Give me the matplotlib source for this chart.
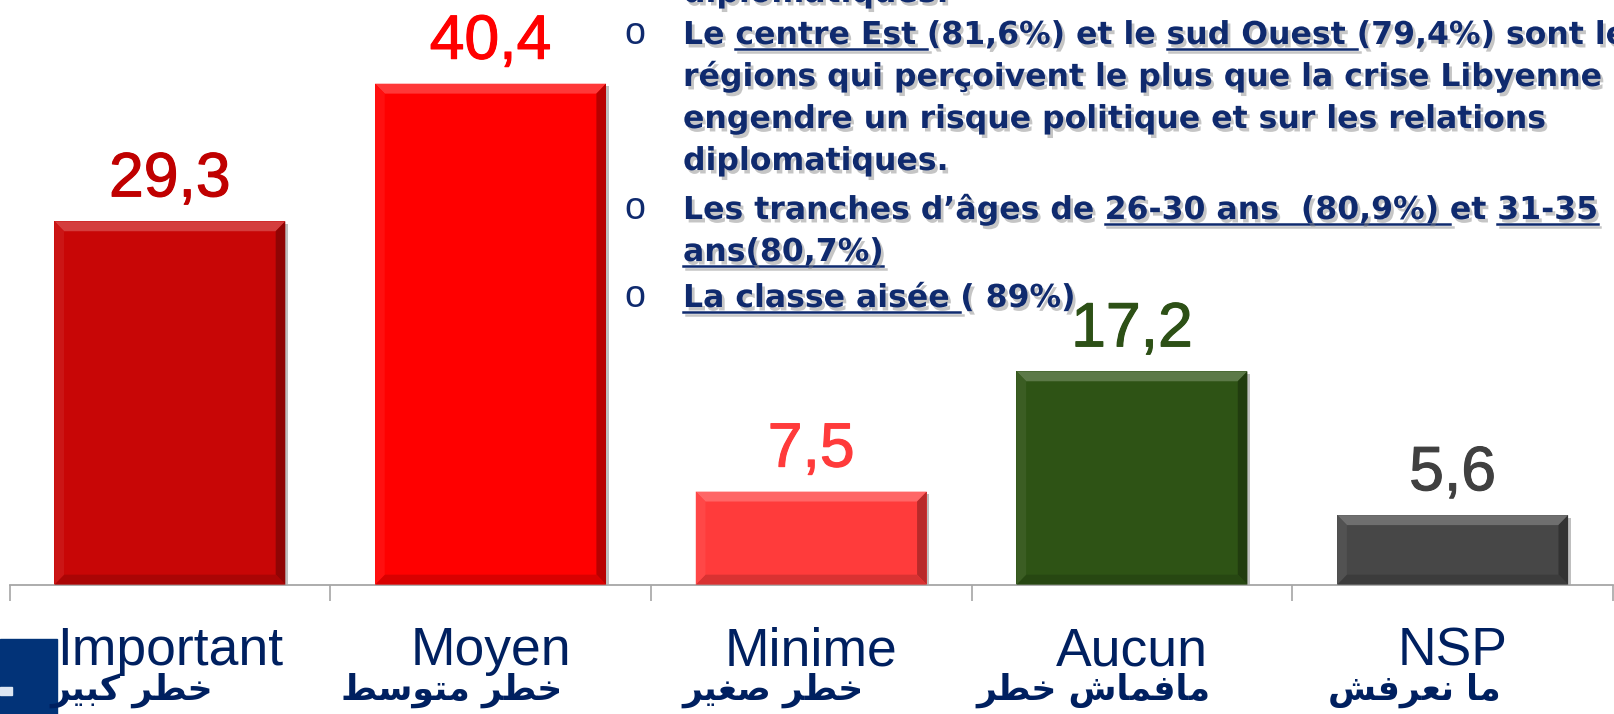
import matplotlib
matplotlib.use('Agg')
import matplotlib.pyplot as plt
import matplotlib.patheffects as pe
import matplotlib.transforms as mtransforms
from matplotlib.patches import Polygon, Rectangle
from matplotlib.lines import Line2D
from matplotlib.font_manager import FontProperties
import matplotlib.colors as mcolors
import numpy as np

# ---------------- data ----------------
categories_fr = ['Important', 'Moyen', 'Minime', 'Aucun', 'NSP']
categories_ar = ['خطر كبير', 'خطر متوسط', 'خطر صغير', 'مافماش خطر', 'ما نعرفش']
values = [29.3, 40.4, 7.5, 17.2, 5.6]
value_labels = ['29,3', '40,4', '7,5', '17,2', '5,6']
bar_colors = ['#C80606', '#FF0000', '#FF3B3B', '#2E5315', '#474747']
label_colors = ['#C00000', '#FF0000', '#FF3B3B', '#2D5016', '#404040']

note_lines = [
    [('diplomatiques.', False)],
    [('Le ', False), ('centre Est ', True), ('(81,6%) et le ', False),
     ('sud Ouest ', True), ('(79,4%) sont les', False)],
    [('régions qui perçoivent le plus que la crise Libyenne', False)],
    [('engendre un risque politique et sur les relations', False)],
    [('diplomatiques.', False)],
    [('Les tranches d’âges de ', False), ('26-30 ans  (80,9%) ', True),
     ('et ', False), ('31-35', True)],
    [('ans(80,7%)', True)],
    [('La classe aisée ', True), ('( 89%)', False)],
]
note_bullets = [False, True, False, False, False, True, False, True]

NAVY = '#0F2A6E'
LABEL_NAVY = '#002060'

# ---------------- Arabic shaping (contextual forms, visual order) ----------------
FORMS = {
    'ا': ('\uFE8D', '\uFE8E', None, None),
    'ب': ('\uFE8F', '\uFE90', '\uFE91', '\uFE92'),
    'ت': ('\uFE95', '\uFE96', '\uFE97', '\uFE98'),
    'خ': ('\uFEA5', '\uFEA6', '\uFEA7', '\uFEA8'),
    'ر': ('\uFEAD', '\uFEAE', None, None),
    'س': ('\uFEB1', '\uFEB2', '\uFEB3', '\uFEB4'),
    'ش': ('\uFEB5', '\uFEB6', '\uFEB7', '\uFEB8'),
    'ص': ('\uFEB9', '\uFEBA', '\uFEBB', '\uFEBC'),
    'ط': ('\uFEC1', '\uFEC2', '\uFEC3', '\uFEC4'),
    'ع': ('\uFEC9', '\uFECA', '\uFECB', '\uFECC'),
    'غ': ('\uFECD', '\uFECE', '\uFECF', '\uFED0'),
    'ف': ('\uFED1', '\uFED2', '\uFED3', '\uFED4'),
    'ك': ('\uFED9', '\uFEDA', '\uFEDB', '\uFEDC'),
    'م': ('\uFEE1', '\uFEE2', '\uFEE3', '\uFEE4'),
    'ن': ('\uFEE5', '\uFEE6', '\uFEE7', '\uFEE8'),
    'و': ('\uFEED', '\uFEEE', None, None),
    'ي': ('\uFEF1', '\uFEF2', '\uFEF3', '\uFEF4'),
}


def shape_arabic(text):
    chars = list(text)
    out = []
    for i, ch in enumerate(chars):
        f = FORMS.get(ch)
        if f is None:
            out.append(ch)
            continue
        prev = chars[i - 1] if i > 0 else None
        nxt = chars[i + 1] if i + 1 < len(chars) else None
        jp = prev in FORMS and FORMS[prev][2] is not None
        jn = nxt in FORMS and f[2] is not None
        if jp and jn:
            out.append(f[3])
        elif jp:
            out.append(f[1])
        elif jn:
            out.append(f[2])
        else:
            out.append(f[0])
    return ''.join(reversed(out))


def mix(c, other, t):
    a = np.array(mcolors.to_rgb(c))
    b = np.array(mcolors.to_rgb(other))
    return tuple(a * (1 - t) + b * t)


# ---------------- figure ----------------
W, H = 1614, 714
fig = plt.figure(figsize=(W / 100, H / 100), dpi=100)
fig.patch.set_facecolor('white')

ax_left, ax_right, ax_base = 9.5, 1613, 584.6
ax = fig.add_axes([ax_left / W, (H - ax_base) / H, (ax_right - ax_left) / W, ax_base / H])
ax.set_facecolor('none')
x = np.arange(len(values))
ax.set_xlim(-0.5, len(values) - 0.5)
ax.set_ylim(0, 47.15)

for s in ['top', 'left', 'right']:
    ax.spines[s].set_visible(False)
ax.spines['bottom'].set_color('#A6A6A6')
ax.spines['bottom'].set_linewidth(1.3)
ax.set_yticks([])
ax.set_xticks(np.arange(-0.5, len(values)), labels=[''] * (len(values) + 1))
ax.tick_params(axis='x', direction='out', length=11.5, width=1.2, color='#A6A6A6')

bars = ax.bar(x, values, width=0.72, color=bar_colors, zorder=2,
              path_effects=[pe.SimplePatchShadow(offset=(2, -2), shadow_rgbFace='#000000', alpha=0.25), pe.Normal()])

bx, by = 0.03, 0.8
for b, c in zip(bars, bar_colors):
    x0, y0, w, h = b.get_x(), b.get_y(), b.get_width(), b.get_height()
    top = Polygon([(x0, y0 + h), (x0 + w, y0 + h), (x0 + w - bx, y0 + h - by), (x0 + bx, y0 + h - by)],
                  closed=True, color=mix(c, 'white', 0.22), lw=0, zorder=3)
    right = Polygon([(x0 + w, y0 + h), (x0 + w, y0), (x0 + w - bx, y0 + by), (x0 + w - bx, y0 + h - by)],
                    closed=True, color=mix(c, 'black', 0.28), lw=0, zorder=3)
    bottom = Polygon([(x0, y0), (x0 + w, y0), (x0 + w - bx, y0 + by), (x0 + bx, y0 + by)],
                     closed=True, color=mix(c, 'black', 0.15), lw=0, zorder=3)
    left = Polygon([(x0, y0), (x0, y0 + h), (x0 + bx, y0 + h - by), (x0 + bx, y0 + by)],
                   closed=True, color=mix(c, 'white', 0.06), lw=0, zorder=3)
    for p in (top, right, bottom, left):
        ax.add_patch(p)

for xi, v, lab, col in zip(x, values, value_labels, label_colors):
    ax.annotate(lab, (xi, v), xytext=(0, 18), textcoords='offset points',
                ha='center', va='baseline', fontsize=45, color=col,
                family='Liberation Sans', zorder=4, annotation_clip=False,
                path_effects=[pe.withStroke(linewidth=0.8, foreground=col)])

# category labels (French + Arabic)
trans = mtransforms.blended_transform_factory(ax.transData, fig.transFigure)
for xi, fr, ar in zip(x, categories_fr, categories_ar):
    fig.text(xi, (H - 665) / H, fr, transform=trans, ha='center', va='baseline',
             fontsize=38.5, color=LABEL_NAVY, family='Liberation Sans')
    fig.text(xi - 0.12, (H - 700) / H, shape_arabic(ar), transform=trans, ha='center',
             va='baseline', fontsize=25, color=LABEL_NAVY, family='DejaVu Sans',
             fontweight='bold')

# logo fragment bottom-left
fig.patches.append(Rectangle((0, 0), 57 / W, (H - 639) / H, transform=fig.transFigure,
                             color='#023378', zorder=1))
fig.patches.append(Rectangle((0, (H - 695) / H), 12 / W, 8 / H, transform=fig.transFigure,
                             color='#DDE6F2', zorder=2))

# ---------------- note text block ----------------
fig.canvas.draw()
renderer = fig.canvas.get_renderer()
fp = FontProperties(family='DejaVu Sans', weight='bold', size=22.7)


def text_w(s):
    w1, _, _ = renderer.get_text_width_height_descent('|' + s + '|', fp, ismath=False)
    w2, _, _ = renderer.get_text_width_height_descent('||', fp, ismath=False)
    return w1 - w2


shadow = [pe.SimplePatchShadow(offset=(2, -2.5), shadow_rgbFace='#7F7F7F', alpha=0.45), pe.Normal()]
line_shadow = [pe.SimpleLineShadow(offset=(2, -2.5), shadow_color='#7F7F7F', alpha=0.45), pe.Normal()]
baselines = [2, 44, 86, 128, 170, 219, 261, 307]
text_x0 = 683
for segs, bullet, yb in zip(note_lines, note_bullets, baselines):
    if bullet:
        fig.text(635 / W, (H - yb) / H, 'o', ha='center', va='baseline', fontsize=27,
                 color=NAVY, family='Liberation Sans')
    xcur = text_x0
    for s, ul in segs:
        fig.text(xcur / W, (H - yb) / H, s, ha='left', va='baseline', fontproperties=fp,
                 color=NAVY, path_effects=shadow)
        w = text_w(s)
        if ul:
            yl = (H - yb - 5) / H
            fig.lines.append(Line2D([xcur / W, (xcur + w) / W], [yl, yl], transform=fig.transFigure,
                                    color=NAVY, lw=1.8, path_effects=line_shadow))
        xcur += w

fig.savefig('out.png', dpi=100, facecolor='white')
